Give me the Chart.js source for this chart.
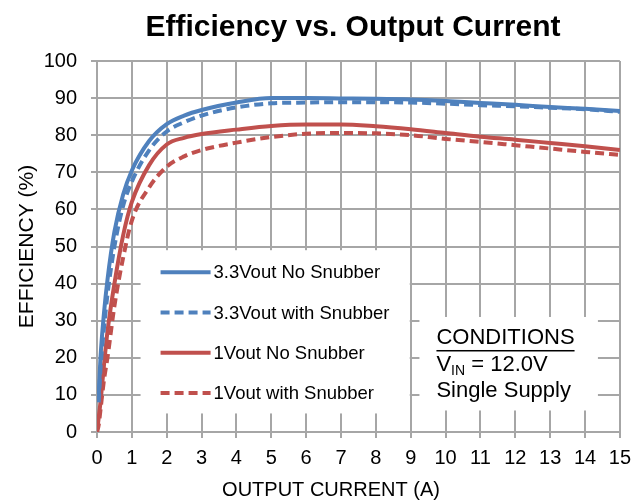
<!DOCTYPE html>
<html>
<head>
<meta charset="utf-8">
<script src="https://cdn.jsdelivr.net/npm/chart.js@4.4.0/dist/chart.umd.min.js"></script>
<style>
  html, body { margin: 0; padding: 0; background: #fff; }
</style>
</head>
<body>
<canvas id="effChart" width="639" height="501"></canvas>
<script>
// output current (A) shared by all four curves
const outputCurrent = [0, 0.05, 0.1, 0.2, 0.3, 0.5, 0.75, 1, 1.5, 2, 2.5, 3, 4, 5, 6, 7, 8, 9, 10, 11, 12, 13, 14, 15];

// efficiency (%) per curve, null where the curve has no point
const eff33NoSnub   = [null, 10, 20, 32, 41, 54, 64, 70.5, 78.5, 83, 85.3, 86.8, 88.8, 90, 90, 89.9, 89.8, 89.6, 89.2, 88.7, 88.2, 87.6, 87.1, 86.5];
const eff33Snub     = [null, 8, 17, 28, 37, 50, 61, 67.5, 76, 81, 83.5, 85.3, 87.5, 88.6, 88.8, 88.9, 88.9, 88.8, 88.5, 88.1, 87.8, 87.4, 87.0, 86.3];
const eff1NoSnub    = [0, 4, 8, 18, 27, 40, 53, 62, 72, 77.5, 79.3, 80.3, 81.5, 82.5, 82.9, 82.9, 82.4, 81.6, 80.6, 79.6, 78.8, 77.9, 77.0, 76.0];
const eff1Snub      = [0, 2, 6, 14, 20, 34, 47, 57, 66, 71.5, 74.3, 76, 78, 79.5, 80.4, 80.6, 80.5, 80, 79, 78.2, 77.3, 76.4, 75.5, 74.7];

const seriesNames = ['3.3Vout No Snubber', '3.3Vout with Snubber', '1Vout No Snubber', '1Vout with Snubber'];
const seriesValues = [eff33NoSnub, eff33Snub, eff1NoSnub, eff1Snub];
const seriesColors = ['#4F81BD', '#4F81BD', '#C0504D', '#C0504D'];
const seriesDashed = [false, true, false, true];

const chartTitle = 'Efficiency vs. Output Current';
const xAxisTitle = 'OUTPUT CURRENT (A)';
const yAxisTitle = 'EFFICIENCY (%)';
const conditionsHead = 'CONDITIONS';
const vinValue = ' = 12.0V';
const supplyNote = 'Single Supply';

const FONT = "'Liberation Sans', Arial, Helvetica, sans-serif";
const GRID = '#a6a6a6';
const DASH = [9, 5];

function toPoints(values) {
    const pts = [];
    values.forEach((v, i) => {
        if (v !== null) pts.push({ x: outputCurrent[i], y: v });
    });
    return pts;
}

// white panels behind the legend and the conditions note, then the texts
const overlayPlugin = {
    id: 'overlay',
    beforeDatasetsDraw(chart) {
        const { ctx, scales: { x, y } } = chart;
        ctx.save();
        ctx.fillStyle = '#fff';
        // legend panel
        ctx.fillRect(x.getPixelForValue(1.25), y.getPixelForValue(49), x.getPixelForValue(9) - 1 - x.getPixelForValue(1.25), y.getPixelForValue(5) - y.getPixelForValue(49));
        // conditions panel
        ctx.fillRect(x.getPixelForValue(9.25), y.getPixelForValue(31), x.getPixelForValue(14.37) - x.getPixelForValue(9.25), y.getPixelForValue(5.8) - y.getPixelForValue(31));
        ctx.restore();
    },
    afterDraw(chart) {
        const { ctx, chartArea, scales: { x, y } } = chart;
        ctx.save();
        ctx.fillStyle = '#000';
        ctx.textBaseline = 'middle';

        // chart title
        ctx.font = `bold 30px ${FONT}`;
        ctx.textAlign = 'center';
        ctx.fillText(chartTitle, 353, 28);

        // axis titles
        ctx.font = `20px ${FONT}`;
        ctx.fillText(xAxisTitle, 331, 490);
        ctx.save();
        ctx.translate(27, (chartArea.top + chartArea.bottom) / 2);
        ctx.rotate(-Math.PI / 2);
        ctx.font = `21px ${FONT}`;
        ctx.fillText(yAxisTitle, 0, 0);
        ctx.restore();

        // legend
        const lx = x.getPixelForValue(1.25);
        const ly = y.getPixelForValue(49);
        ctx.textAlign = 'left';
        ctx.font = `18.5px ${FONT}`;
        seriesNames.forEach((name, i) => {
            const rowY = ly + 22 + i * 40.3;
            ctx.save();
            ctx.strokeStyle = seriesColors[i];
            ctx.lineWidth = 4;
            ctx.setLineDash(seriesDashed[i] ? DASH : []);
            ctx.beginPath();
            ctx.moveTo(lx + 20, rowY);
            ctx.lineTo(lx + 70, rowY);
            ctx.stroke();
            ctx.restore();
            ctx.fillText(name, lx + 73, rowY + 1);
        });

        // conditions note
        const cx = x.getPixelForValue(9.25) + 17;
        const cy = y.getPixelForValue(31);
        ctx.font = `22px ${FONT}`;
        ctx.fillText(conditionsHead, cx, cy + 21);
        const headW = ctx.measureText(conditionsHead).width;
        ctx.fillRect(cx, cy + 33, headW, 1.5);

        ctx.fillText('V', cx, cy + 48);
        const vW = ctx.measureText('V').width;
        ctx.font = `14px ${FONT}`;
        ctx.fillText('IN', cx + vW, cy + 54);
        const inW = ctx.measureText('IN').width;
        ctx.font = `22px ${FONT}`;
        ctx.fillText(vinValue, cx + vW + inW, cy + 48);

        ctx.fillText(supplyNote, cx, cy + 74);
        ctx.restore();
    }
};

const datasets = seriesNames.map((name, i) => ({
    label: name,
    data: toPoints(seriesValues[i]),
    borderColor: seriesColors[i],
    borderWidth: 4,
    borderDash: seriesDashed[i] ? DASH : [],
    pointRadius: 0,
    fill: false,
    cubicInterpolationMode: 'monotone'
}));

const ctx = document.getElementById('effChart').getContext('2d');
const effChart = new Chart(ctx, {
    type: 'line',
    data: { datasets },
    plugins: [overlayPlugin],
    options: {
        responsive: false,
        animation: false,
        devicePixelRatio: 1,
        layout: { padding: { top: 61, right: 15, bottom: 0, left: 0 } },
        plugins: {
            legend: { display: false },
            tooltip: { enabled: false },
            title: { display: false }
        },
        scales: {
            x: {
                type: 'linear',
                min: 0,
                max: 15,
                afterFit: (scale) => { scale.height = 69; },
                ticks: { stepSize: 1, color: '#000', font: { family: FONT, size: 20 }, padding: 8, maxRotation: 0 },
                grid: { color: GRID, lineWidth: 2, tickLength: 6 },
                border: { color: GRID, width: 2 }
            },
            y: {
                min: 0,
                max: 100,
                afterFit: (scale) => { scale.width = 97; },
                ticks: { stepSize: 10, color: '#000', font: { family: FONT, size: 20 }, padding: 14 },
                grid: { color: GRID, lineWidth: 2, tickLength: 6 },
                border: { color: GRID, width: 2 }
            }
        }
    }
});
</script>
</body>
</html>
